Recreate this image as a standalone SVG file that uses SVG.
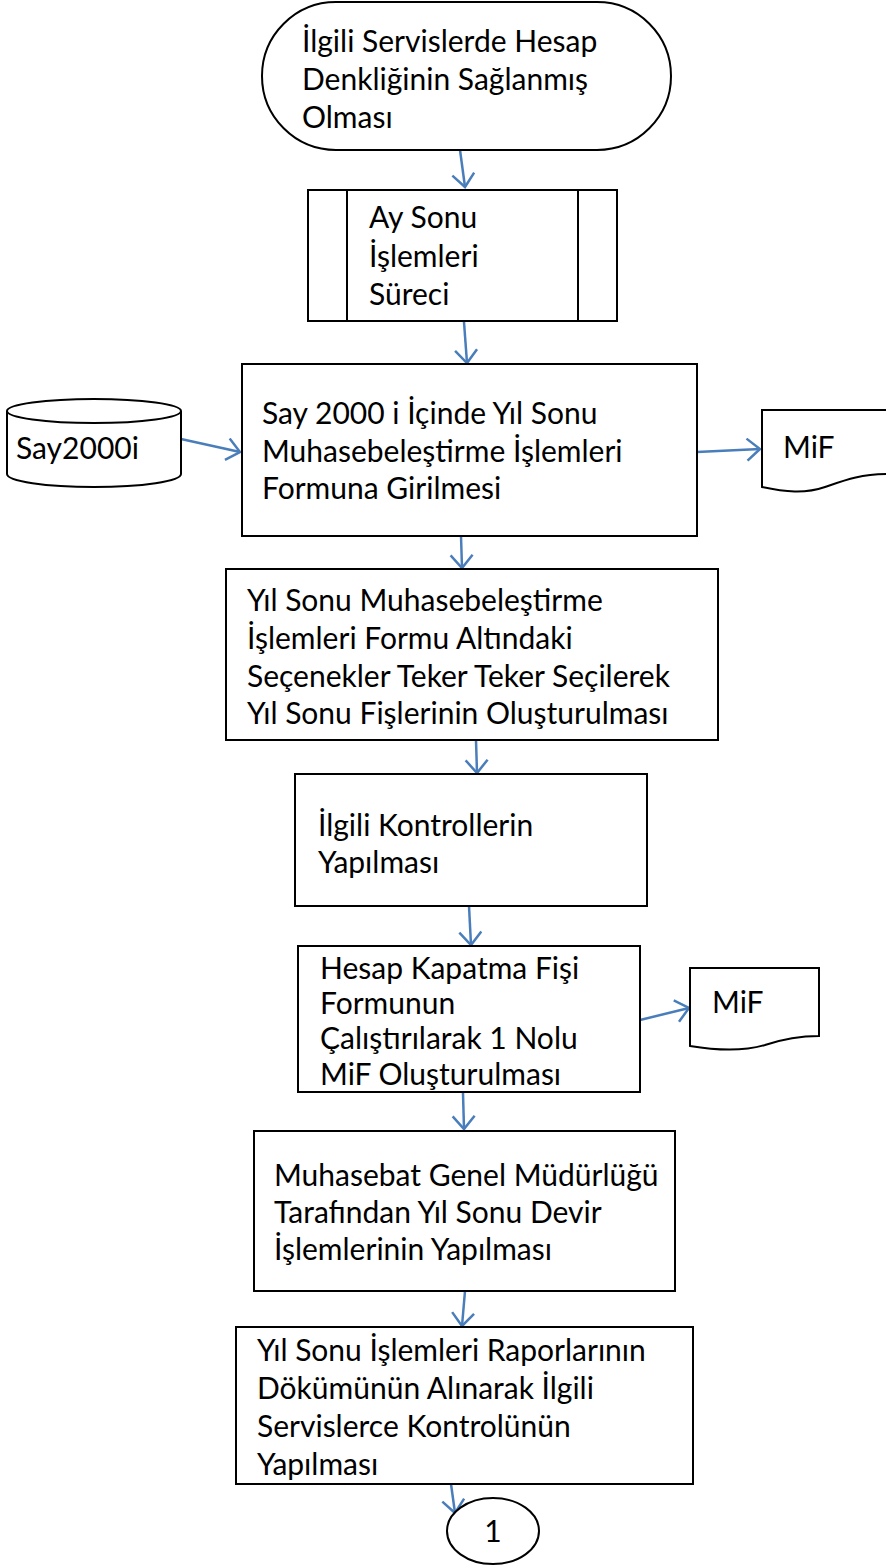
<svg xmlns="http://www.w3.org/2000/svg" width="886" height="1566" viewBox="0 0 886 1566">
<defs>
<style>
.shape{fill:#fff;stroke:#000;stroke-width:2}
.t{font-family:Lato,"Liberation Sans",sans-serif;font-size:30px;fill:#000}
.c{fill:none;stroke:#4a7ebb;stroke-width:2.5}
</style>
<marker id="ah" markerWidth="20" markerHeight="26" refX="15" refY="12" orient="auto" markerUnits="userSpaceOnUse">
<path d="M2,1 L15,12 L2,23" fill="none" stroke="#4a7ebb" stroke-width="2.5"/>
</marker>
</defs>
<rect width="886" height="1566" fill="#fff"/>
<g id="connectors">
<line class="c" x1="460" y1="150" x2="465" y2="187" marker-end="url(#ah)"/>
<line class="c" x1="464" y1="322" x2="467" y2="363" marker-end="url(#ah)"/>
<line class="c" x1="181" y1="439" x2="240" y2="452" marker-end="url(#ah)"/>
<line class="c" x1="697" y1="452" x2="760" y2="449" marker-end="url(#ah)"/>
<line class="c" x1="461" y1="536" x2="462" y2="568" marker-end="url(#ah)"/>
<line class="c" x1="476" y1="740" x2="477" y2="773" marker-end="url(#ah)"/>
<line class="c" x1="469" y1="906" x2="471" y2="945" marker-end="url(#ah)"/>
<line class="c" x1="640" y1="1020" x2="689" y2="1008" marker-end="url(#ah)"/>
<line class="c" x1="463" y1="1093" x2="464" y2="1129" marker-end="url(#ah)"/>
<line class="c" x1="465" y1="1291" x2="462" y2="1326" marker-end="url(#ah)"/>
<line class="c" x1="451" y1="1484" x2="455" y2="1513" marker-end="url(#ah)"/>
</g>
<g id="n1">
<rect class="shape" x="262" y="2" width="409" height="148" rx="74" ry="74"/>
<text class="t" x="302" y="52">İlgili Servislerde Hesap</text>
<text class="t" x="302" y="90">Denkliğinin Sağlanmış</text>
<text class="t" x="302" y="128">Olması</text>
</g>
<g id="n2">
<rect class="shape" x="308" y="190" width="309" height="131"/>
<line class="shape" x1="347" y1="190" x2="347" y2="321"/>
<line class="shape" x1="578" y1="190" x2="578" y2="321"/>
<text class="t" x="369" y="228">Ay Sonu</text>
<text class="t" x="369" y="267">İşlemleri</text>
<text class="t" x="369" y="305">Süreci</text>
</g>
<g id="n3">
<rect class="shape" x="242" y="364" width="455" height="172"/>
<text class="t" x="262" y="424">Say 2000 i İçinde Yıl Sonu</text>
<text class="t" x="262" y="462">Muhasebeleştirme İşlemleri</text>
<text class="t" x="262" y="499">Formuna Girilmesi</text>
</g>
<g id="db">
<path class="shape" d="M7,411 L7,474 A87,13 0 0 0 181,474 L181,411"/>
<ellipse class="shape" cx="94" cy="411" rx="87" ry="12"/>
<text class="t" x="16" y="459">Say2000i</text>
</g>
<g id="doc1">
<path class="shape" d="M762,410 L890,410 L890,474 C860,474 845,480 825,487 C805,494 785,492 762,487 Z"/>
<text class="t" x="783" y="458">MiF</text>
</g>
<g id="n4">
<rect class="shape" x="226" y="569" width="492" height="171"/>
<text class="t" x="247" y="611">Yıl Sonu Muhasebeleştirme</text>
<text class="t" x="247" y="649">İşlemleri Formu Altındaki</text>
<text class="t" x="247" y="687">Seçenekler Teker Teker Seçilerek</text>
<text class="t" x="247" y="724">Yıl Sonu Fişlerinin  Oluşturulması</text>
</g>
<g id="n5">
<rect class="shape" x="295" y="774" width="352" height="132"/>
<text class="t" x="318" y="836">İlgili Kontrollerin</text>
<text class="t" x="318" y="873">Yapılması</text>
</g>
<g id="n6">
<rect class="shape" x="298" y="946" width="342" height="146"/>
<text class="t" x="320" y="979">Hesap Kapatma Fişi</text>
<text class="t" x="320" y="1014">Formunun</text>
<text class="t" x="320" y="1049">Çalıştırılarak 1 Nolu</text>
<text class="t" x="320" y="1085">MiF Oluşturulması</text>
</g>
<g id="doc2">
<path class="shape" d="M690,968 L819,968 L819,1036 C795,1036 780,1040 765,1045 C745,1051 720,1051 690,1046 Z"/>
<text class="t" x="712" y="1013">MiF</text>
</g>
<g id="n7">
<rect class="shape" x="254" y="1131" width="421" height="160"/>
<text class="t" x="274" y="1186">Muhasebat Genel Müdürlüğü</text>
<text class="t" x="274" y="1223">Tarafından Yıl Sonu Devir</text>
<text class="t" x="274" y="1260">İşlemlerinin Yapılması</text>
</g>
<g id="n8">
<rect class="shape" x="236" y="1327" width="457" height="157"/>
<text class="t" x="257" y="1361">Yıl Sonu İşlemleri Raporlarının</text>
<text class="t" x="257" y="1399">Dökümünün Alınarak İlgili</text>
<text class="t" x="257" y="1437">Servislerce Kontrolünün</text>
<text class="t" x="257" y="1475">Yapılması</text>
</g>
<g id="conn">
<ellipse class="shape" cx="493" cy="1531" rx="46" ry="33"/>
<text class="t" x="493" y="1542" text-anchor="middle">1</text>
</g>
</svg>
